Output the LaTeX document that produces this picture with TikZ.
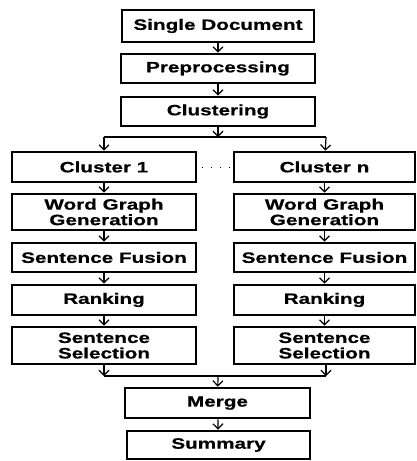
\documentclass[tikz,border=0pt]{standalone}
\usepackage{fontspec}
\newfontfamily\boxfont{Liberation Sans}[FakeStretch=1.38, FakeBold=0.6]
\usepackage{tikz}
\usetikzlibrary{arrows.meta, positioning, calc}

\tikzset{
  stagebox/.style={draw, line width=2.7pt, inner sep=0pt, align=center,
    font=\boxfont\bfseries\fontsize{15}{15.5}\selectfont},
  flow/.style={line width=1.2pt, -{Straight Barb[length=5pt, width=10pt, line width=1.2pt]}},
  link/.style={line width=1.2pt}
}

\begin{document}
\begin{tikzpicture}[x=1pt, y=-1pt]
  \useasboundingbox (0,0) rectangle (416,461);

  % Top chain
  \node[stagebox, minimum width=192pt, minimum height=32pt] (doc) at (218, 26) {Single Document};
  \node[stagebox, minimum width=194pt, minimum height=29pt] (prep) at (218, 68.5) {Preprocessing};
  \node[stagebox, minimum width=194pt, minimum height=29pt] (clus) at (218, 111.5) {Clustering};
  \draw[flow] (doc) -- (prep);
  \draw[flow] (prep) -- (clus);

  % Split into clusters
  \coordinate (split) at (218, 137);
  \coordinate (splitl) at (104, 137);
  \coordinate (splitr) at (326, 137);
  \draw[flow] (clus) -- (split);
  \draw[link] (splitl) -- (splitr);

  % Left branch
  \node[stagebox, minimum width=184pt, minimum height=30pt] (clusa) at (104, 167) {Cluster 1};
  \node[stagebox, minimum width=184pt, minimum height=36pt] (wga) at (104, 212) {Word Graph\\Generation};
  \node[stagebox, minimum width=184pt, minimum height=29pt] (sfa) at (104, 257.5) {Sentence Fusion};
  \node[stagebox, minimum width=184pt, minimum height=30pt] (rka) at (104, 300) {Ranking};
  \node[stagebox, minimum width=184pt, minimum height=37pt] (ssa) at (104, 345.5) {Sentence\\Selection};
  \draw[flow] (splitl) -- (clusa);
  \draw[flow] (clusa) -- (wga);
  \draw[flow] (wga) -- (sfa);
  \draw[flow] (sfa) -- (rka);
  \draw[flow] (rka) -- (ssa);

  % Right branch
  \node[stagebox, minimum width=181pt, minimum height=30pt] (clusb) at (324.5, 167) {Cluster n};
  \node[stagebox, minimum width=181pt, minimum height=36pt] (wgb) at (324.5, 212) {Word Graph\\Generation};
  \node[stagebox, minimum width=181pt, minimum height=29pt] (sfb) at (324.5, 257.5) {Sentence Fusion};
  \node[stagebox, minimum width=181pt, minimum height=30pt] (rkb) at (324.5, 300) {Ranking};
  \node[stagebox, minimum width=181pt, minimum height=37pt] (ssb) at (324.5, 345.5) {Sentence\\Selection};
  \draw[flow] (splitr) -- (clusb);
  \draw[flow] (clusb) -- (wgb);
  \draw[flow] (wgb) -- (sfb);
  \draw[flow] (sfb) -- (rkb);
  \draw[flow] (rkb) -- (ssb);

  % Dots between clusters
  \draw[line width=1pt, dash pattern=on 1pt off 8pt] ([xshift=5pt]clusa.east) -- (clusb.west);

  % Merge
  \coordinate (joinl) at (104, 376);
  \coordinate (joinr) at (326, 376);
  \coordinate (join) at (218, 376);
  \draw[flow] (ssa.south -| joinl) -- (joinl);
  \draw[flow] (ssb.south -| joinr) -- (joinr);
  \draw[link] (joinl) -- (joinr);

  \node[stagebox, minimum width=185pt, minimum height=30pt] (merge) at (217.5, 403) {Merge};
  \node[stagebox, minimum width=183pt, minimum height=28pt] (summ) at (218.5, 445) {Summary};
  \draw[flow] (join) -- (merge);
  \draw[flow] (merge) -- (summ);
\end{tikzpicture}
\end{document}
